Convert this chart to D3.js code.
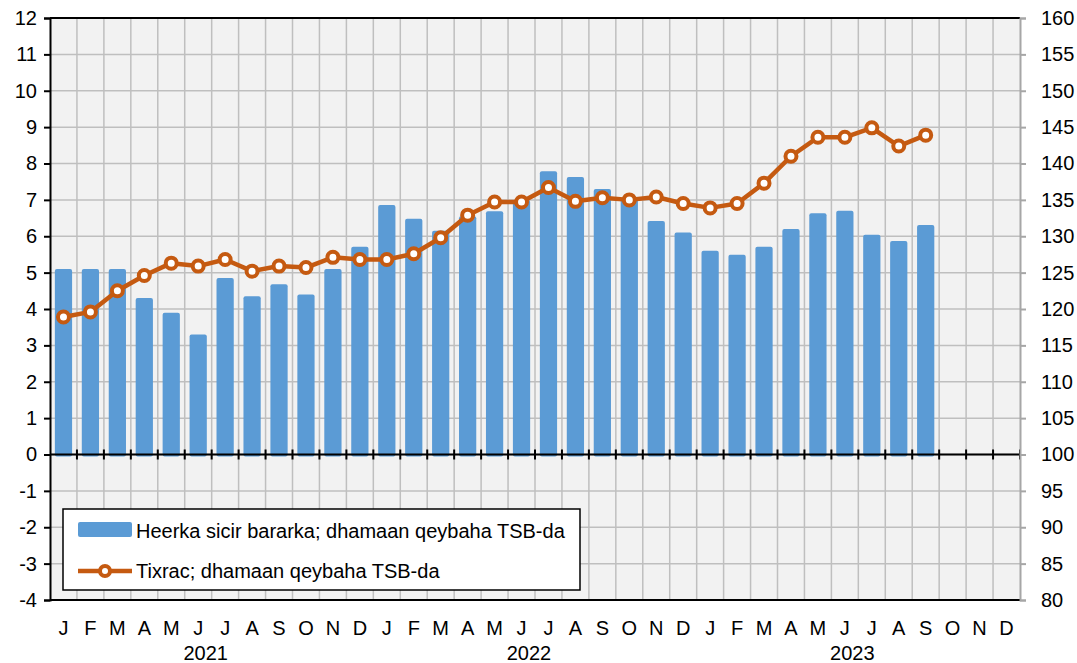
<!DOCTYPE html>
<html>
<head>
<meta charset="utf-8">
<script src="https://cdn.jsdelivr.net/npm/d3@7"></script>
<style>
  body { margin: 0; background: #fff; }
  svg text { font-family: "Liberation Sans", Arial, sans-serif; fill: #000; }
</style>
</head>
<body>
<div id="chart"></div>
<script>
// data
const months = ["J","F","M","A","M","J","J","A","S","O","N","D"];
const years = ["2021", "2022", "2023"];
const balance = [5.1, 5.1, 5.1, 4.3, 3.9, 3.3, 4.85, 4.35, 4.68, 4.4, 5.1, 5.71,
                 6.86, 6.48, 6.15, 6.55, 6.69, 7.0, 7.79, 7.63, 7.3, 7.05, 6.42, 6.1,
                 5.6, 5.49, 5.71, 6.2, 6.63, 6.7, 6.04, 5.87, 6.31];
const indexVals = [118.9, 119.6, 122.5, 124.6, 126.3, 125.9, 126.8, 125.2, 125.9, 125.7, 127.1, 126.8,
                   126.8, 127.6, 129.8, 132.9, 134.7, 134.7, 136.7, 134.8, 135.3, 135.0, 135.4, 134.5,
                   133.9, 134.5, 137.3, 141.0, 143.6, 143.6, 144.9, 142.4, 143.9];
const leftTicks = d3.range(-4, 13, 1);
const rightTicks = d3.range(80, 161, 5);
const legendLabels = ["Heerka sicir bararka; dhamaan qeybaha TSB-da", "Tixrac; dhamaan qeybaha TSB-da"];

const w = 1077, h = 663;
const pLeft = 50, pRight = 1020, pTop = 18, pBottom = 600;
const barColor = "#5b9bd5", lineColor = "#c55a11";

// one category per month, 3 years
const cats = [];
years.forEach(function(y) { months.forEach(function(m) { cats.push({ year: y, month: m }); }); });

const xScale = d3.scaleBand().domain(d3.range(cats.length))
                 .range([pLeft, pRight]).paddingInner(0.36).paddingOuter(0.18);
const yScale = d3.scaleLinear().domain([-4, 12]).range([pBottom, pTop]);
const y2Scale = d3.scaleLinear().domain([80, 160]).range([pBottom, pTop]);
const step = xScale.step();
const boundary = function(k) { return pLeft + k * step; };

const svg = d3.select("#chart").append("svg")
              .attr("width", w).attr("height", h);

svg.append("rect").attr("x", pLeft).attr("y", pTop)
   .attr("width", pRight - pLeft).attr("height", pBottom - pTop)
   .attr("fill", "#f2f2f2");

// grid
svg.append("g").selectAll("line").data(leftTicks).enter().append("line")
   .attr("x1", pLeft).attr("x2", pRight)
   .attr("y1", d => yScale(d)).attr("y2", d => yScale(d))
   .attr("stroke", "#bfbfbf").attr("stroke-width", 1.5);
svg.append("g").selectAll("line").data(d3.range(1, cats.length)).enter().append("line")
   .attr("x1", d => boundary(d)).attr("x2", d => boundary(d))
   .attr("y1", pTop).attr("y2", pBottom)
   .attr("stroke", "#bfbfbf").attr("stroke-width", 1.5);

// bars
svg.append("g").selectAll("rect").data(balance).enter().append("rect")
   .attr("x", (d, i) => xScale(i))
   .attr("y", d => yScale(d))
   .attr("width", xScale.bandwidth())
   .attr("height", d => yScale(0) - yScale(d) + 2)
   .attr("rx", 2)
   .attr("fill", barColor);

// zero axis with ticks on month boundaries
const y0 = yScale(0);
svg.append("line").attr("x1", pLeft).attr("x2", pRight)
   .attr("y1", y0).attr("y2", y0)
   .attr("stroke", "#000").attr("stroke-width", 2);
svg.append("g").selectAll("line").data(d3.range(1, cats.length + 1)).enter().append("line")
   .attr("x1", d => boundary(d)).attr("x2", d => boundary(d))
   .attr("y1", y0 - 5).attr("y2", y0 + 5)
   .attr("stroke", "#000").attr("stroke-width", 2);

// line + markers
const line = d3.line()
  .x((d, i) => xScale(i) + xScale.bandwidth() / 2)
  .y(d => y2Scale(d));
svg.append("path").datum(indexVals)
   .attr("d", line).attr("fill", "none")
   .attr("stroke", lineColor).attr("stroke-width", 4.5)
   .attr("stroke-linejoin", "round");
svg.append("g").selectAll("circle").data(indexVals).enter().append("circle")
   .attr("cx", (d, i) => xScale(i) + xScale.bandwidth() / 2)
   .attr("cy", d => y2Scale(d))
   .attr("r", 5.5)
   .attr("fill", "#fff")
   .attr("stroke", lineColor).attr("stroke-width", 4);

// frame
svg.append("line").attr("x1", pLeft).attr("x2", pRight).attr("y1", pTop).attr("y2", pTop)
   .attr("stroke", "#000").attr("stroke-width", 2);
svg.append("line").attr("x1", pLeft).attr("x2", pRight).attr("y1", pBottom).attr("y2", pBottom)
   .attr("stroke", "#000").attr("stroke-width", 2);

// left axis (plain hyphen for negatives, like the original)
const yAxis = svg.append("g").attr("transform", "translate(" + pLeft + ",0)")
  .call(d3.axisLeft(yScale).tickValues(leftTicks).tickSize(6).tickPadding(7).tickFormat(d => String(d)));
yAxis.select(".domain").attr("stroke", "#000").attr("stroke-width", 2);
yAxis.selectAll(".tick line").attr("stroke", "#000").attr("stroke-width", 2);
yAxis.selectAll("text").style("font-size", "20px").attr("font-family", null);

// right axis
const y2Axis = svg.append("g").attr("transform", "translate(" + pRight + ",0)")
  .call(d3.axisRight(y2Scale).tickValues(rightTicks).tickSize(6).tickPadding(15));
y2Axis.select(".domain").attr("stroke", "#a6a6a6").attr("stroke-width", 2);
y2Axis.selectAll(".tick line").attr("stroke", "#a6a6a6").attr("stroke-width", 2);
y2Axis.selectAll("text").style("font-size", "20px").attr("font-family", null);

// month labels
const xAxis = svg.append("g").attr("transform", "translate(0," + pBottom + ")")
  .call(d3.axisBottom(xScale).tickSize(0).tickPadding(21).tickFormat(i => cats[i].month));
xAxis.select(".domain").remove();
xAxis.selectAll("text").style("font-size", "20px").attr("font-family", null);

// year labels
svg.append("g").selectAll("text").data(years).enter().append("text")
   .attr("x", (d, i) => boundary(i * 12 + 6) - 6)
   .attr("y", 660)
   .attr("text-anchor", "middle")
   .style("font-size", "20px")
   .text(d => d);

// legend
const lg = svg.append("g");
lg.append("rect").attr("x", 63).attr("y", 509).attr("width", 517).attr("height", 81)
  .attr("fill", "#fff").attr("stroke", "#000").attr("stroke-width", 1.5);
lg.append("rect").attr("x", 78).attr("y", 522).attr("width", 54).attr("height", 15)
  .attr("rx", 2).attr("fill", barColor);
lg.append("line").attr("x1", 78).attr("x2", 132).attr("y1", 571).attr("y2", 571)
  .attr("stroke", lineColor).attr("stroke-width", 4.5);
lg.append("circle").attr("cx", 105).attr("cy", 571).attr("r", 5)
  .attr("fill", "#fff").attr("stroke", lineColor).attr("stroke-width", 4);
lg.selectAll("text.lab").data(legendLabels).enter().append("text")
  .attr("class", "lab")
  .attr("x", 136).attr("y", (d, i) => 538 + i * 40)
  .style("font-size", "20px")
  .text(d => d);
</script>
</body>
</html>
